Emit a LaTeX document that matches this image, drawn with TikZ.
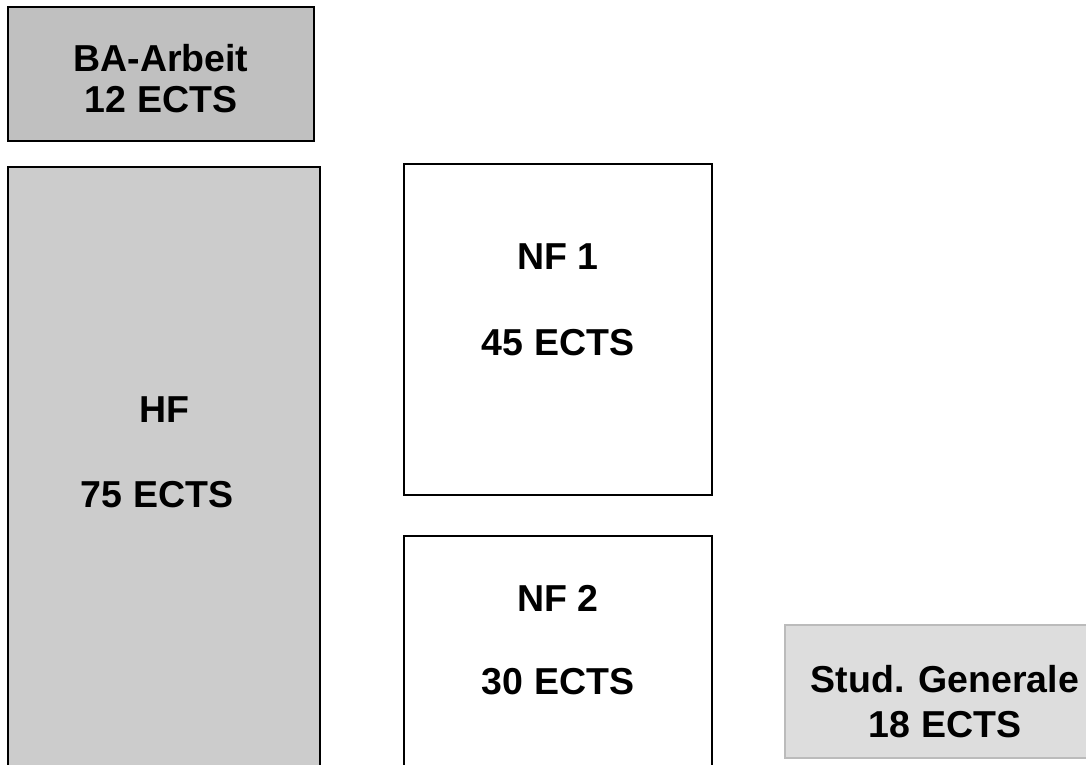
\documentclass[tikz,border=0pt]{standalone}
\usepackage{fontspec}
\setmainfont{Liberation Sans}
\begin{document}
\begin{tikzpicture}[x=1pt,y=-1pt,
  box/.style={draw=black,line width=2pt},
  lbl/.style={font=\bfseries\fontsize{37.5}{44}\selectfont,anchor=base,inner sep=0pt}]
\useasboundingbox (0,0) rectangle (1086,765);
\begin{scope}
\clip (0,0) rectangle (1086,765);
% boxes
\path[box,fill={rgb,255:red,192;green,192;blue,192}] (8,7) rectangle (314,141);
\node[inner sep=0pt] (ba) at (161,74) {};
\path[box,fill={rgb,255:red,204;green,204;blue,204}] (8,167) rectangle (320,790);
\node[inner sep=0pt] (hf) at (164,460) {};
\path[box,fill=white] (404,164) rectangle (712,495);
\node[inner sep=0pt] (nf1) at (558,330) {};
\path[box,fill=white] (404,536) rectangle (712,790);
\node[inner sep=0pt] (nf2) at (558,650) {};
\path[draw={rgb,255:red,187;green,187;blue,187},line width=2pt,fill={rgb,255:red,221;green,221;blue,221}] (785,625) rectangle (1110,758);
\node[inner sep=0pt] (sg) at (945,690) {};
\end{scope}
% labels
\node[lbl] (baA) at (161,72) {BA-Arbeit};
\node[lbl] (baB) at (161,113) {12 ECTS};
\node[lbl] (hfA) at (164,422) {HF};
\node[lbl] (hfB) at (157,507) {75 ECTS};
\node[lbl] (nf1A) at (558,269) {NF 1};
\node[lbl] (nf1B) at (558,355) {45 ECTS};
\node[lbl] (nf2A) at (558,611) {NF 2};
\node[lbl] (nf2B) at (558,694) {30 ECTS};
\node[lbl] (sgA) at (945,692) {Stud. Generale};
\node[lbl] (sgB) at (945,737) {18 ECTS};
\end{tikzpicture}
\end{document}
